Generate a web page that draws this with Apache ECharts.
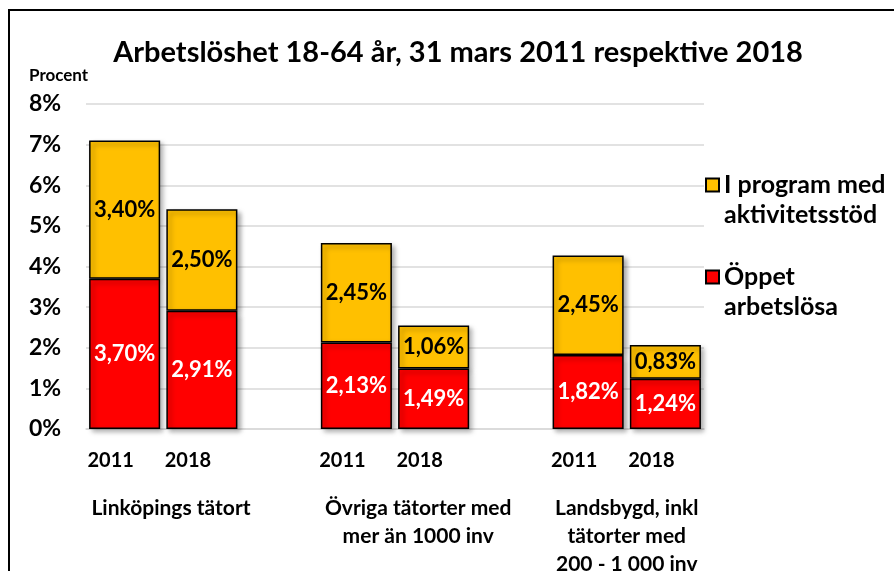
<!DOCTYPE html>
<html>
<head>
<meta charset="utf-8">
<script src="https://cdn.jsdelivr.net/npm/echarts@6/dist/echarts.min.js"></script>
<style>
  html, body { margin: 0; padding: 0; background: #fff; }
  #chart { width: 894px; height: 571px; }
</style>
</head>
<body>
<div id="chart"></div>
<script>
  // categories, blanks make the gap between the groups
  var years = ['2011', '2018', '', '2011', '2018', '', '2011', '2018']
  var oppetArbetslosa = [3.70, 2.91, null, 2.13, 1.49, null, 1.82, 1.24]
  var iProgram = [3.40, 2.50, null, 2.45, 1.06, null, 2.45, 0.83]
  var groupNames = ['Linköpings tätort', 'Övriga tätorter med\nmer än 1000 inv', 'Landsbygd, inkl\ntätorter med\n200 - 1 000 inv']
  var groupPos = [1.1, 4.3, 7]

  var font = 'Lato'
  var chart = echarts.init(document.getElementById('chart'))

  function pct(p) {
    return p.value.toFixed(2).replace('.', ',') + '%'
  }

  chart.setOption({
    animation: false,
    textStyle: { fontFamily: font },
    title: {
      text: 'Arbetslöshet 18-64 år, 31 mars 2011 respektive 2018',
      left: 453,
      textAlign: 'center',
      top: 33,
      textStyle: { fontSize: 29, fontWeight: 'bold', color: '#000', fontFamily: font }
    },
    graphic: [
      {
        type: 'rect',
        shape: { x: 9, y: 10, width: 1000, height: 1000 },
        style: { fill: 'none', stroke: '#000', lineWidth: 2 }
      },
      {
        type: 'text',
        left: 29,
        top: 67,
        style: { text: 'Procent', font: 'bold 17px Lato', fill: '#000' }
      }
    ],
    legend: {
      orient: 'vertical',
      left: 705,
      top: 140,
      padding: 0,
      itemWidth: 13,
      itemHeight: 13,
      itemGap: 2,
      icon: 'rect',
      data: ['I program med\naktivitetsstöd', 'Öppet\narbetslösa'],
      // blank first line so the icon sits on the first text line
      formatter: function (name) { return ' \n' + name },
      textStyle: {
        fontSize: 25,
        fontWeight: 'bold',
        color: '#000',
        lineHeight: 30
      }
    },
    grid: {
      left: 86,
      right: 190,
      top: 104,
      bottom: 142,
      outerBoundsMode: 'none'
    },
    xAxis: [
      {
        type: 'category',
        data: years,
        axisTick: { show: false },
        axisLine: { lineStyle: { color: '#d9d9d9', width: 1.5 } },
        axisLabel: {
          interval: 0,
          margin: 22,
          fontSize: 20,
          fontWeight: 'bold',
          color: '#000',
          padding: [0, 28, 0, 0]
        }
      },
      {
        type: 'value',
        position: 'bottom',
        min: 0,
        max: 8,
        axisLine: { show: false },
        axisTick: { show: false },
        splitLine: { show: false },
        axisLabel: {
          customValues: groupPos,
          margin: 65,
          fontSize: 21,
          fontWeight: 'bold',
          color: '#000',
          lineHeight: 28,
          verticalAlign: 'top',
          formatter: function (v) {
            return groupNames[groupPos.indexOf(v)]
          }
        }
      }
    ],
    yAxis: {
      type: 'value',
      min: 0,
      max: 8,
      interval: 1,
      axisLine: { show: false },
      axisTick: { show: false },
      splitLine: { lineStyle: { color: '#d9d9d9', width: 1.5 } },
      axisLabel: {
        align: 'left',
        margin: 57,
        fontSize: 23,
        fontWeight: 'bold',
        color: '#000',
        formatter: function (v) { return v + '%' }
      }
    },
    series: [
      {
        name: 'Öppet\narbetslösa',
        type: 'bar',
        stack: 'tot',
        z: 3,
        barCategoryGap: '8%',
        data: oppetArbetslosa,
        itemStyle: {
          color: '#ff0000',
          borderColor: '#000',
          borderWidth: 1.5,
          shadowColor: 'rgba(0,0,0,0.35)',
          shadowBlur: 5,
          shadowOffsetX: 3,
          shadowOffsetY: 3
        },
        label: {
          show: true,
          position: 'inside',
          fontSize: 22,
          fontWeight: 'bold',
          color: '#fff',
          formatter: pct
        }
      },
      {
        name: 'I program med\naktivitetsstöd',
        type: 'bar',
        stack: 'tot',
        z: 2,
        barCategoryGap: '8%',
        data: iProgram,
        itemStyle: {
          color: '#ffc000',
          borderColor: '#000',
          borderWidth: 1.5,
          shadowColor: 'rgba(0,0,0,0.35)',
          shadowBlur: 5,
          shadowOffsetX: 3,
          shadowOffsetY: 3
        },
        label: {
          show: true,
          position: 'inside',
          fontSize: 22,
          fontWeight: 'bold',
          color: '#000',
          formatter: pct
        }
      }
    ]
  })
</script>
</body>
</html>
